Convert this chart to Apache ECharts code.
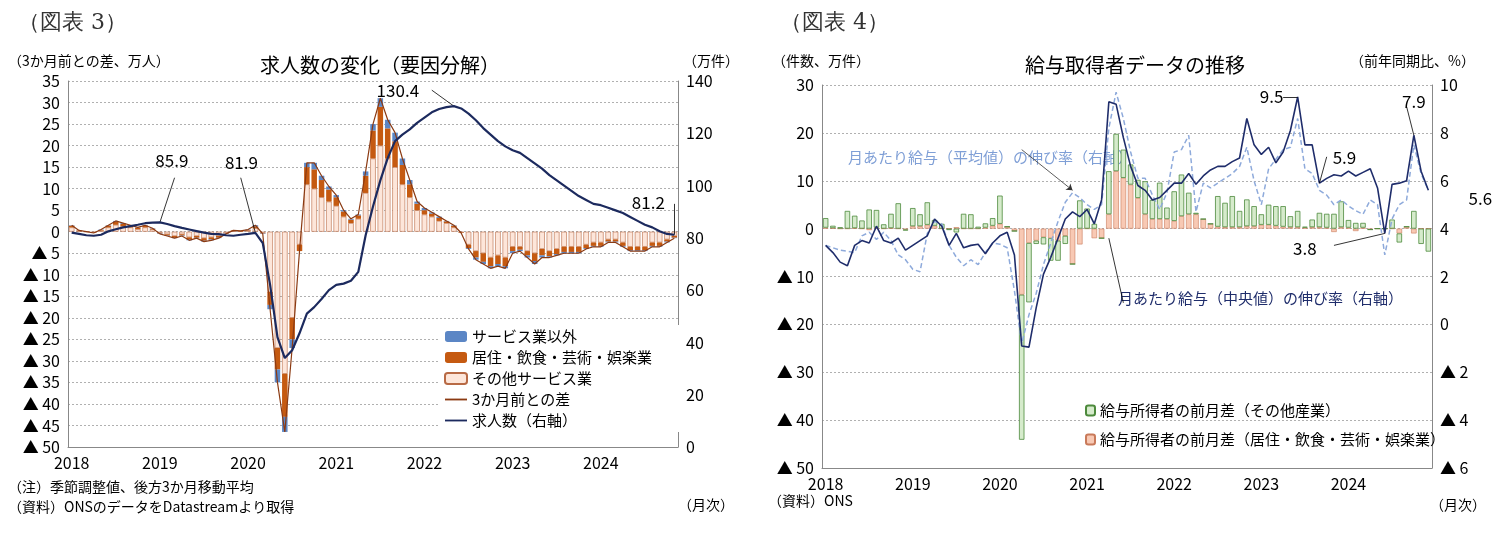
<!DOCTYPE html>
<html><head><meta charset="utf-8">
<script src="https://cdn.jsdelivr.net/npm/echarts@6/dist/echarts.min.js"></script>
<style>html,body{margin:0;background:#fff}#c{width:1494px;height:539px}</style>
</head><body><div id="c"></div>
<script>
// months
var monthsL = [], monthsR = []
for (var y = 2018; y <= 2024; y++) for (var m = 1; m <= 12; m++) monthsR.push(y + '-' + m)
monthsL = monthsR.slice(0, 83)

// 図表3: 3か月前との差（万人）
var otherSvc = [1,0.2,0,-0.2,0.3,1,1.6,1.3,1,0.6,1,0.5,
-0.3,-0.6,-1,-0.6,-1.3,-1,-1.5,-1.3,-1,-0.3,0.2,0.1,
0.3,0.8,-0.3,-14,-27,-33,-20,-3,11,10,8,7,
6,3.5,2,3,9,17,20,17,15,11,8,5,
4,3.5,2.5,2,1,-0.2,-3,-4.5,-5,-6,-5.5,-6,
-3.5,-3.5,-4.5,-5,-4,-4.5,-4,-3.5,-3.5,-3.5,-3,-2.5,
-2.5,-1.8,-1.8,-2.5,-3.5,-3.5,-3.5,-2.5,-2.5,-1.8,-1]
var hospL = [0.4,0.1,0,-0.1,0.1,0.4,0.7,0.5,0.4,0.3,0.4,0.2,
-0.1,-0.3,-0.4,-0.3,-0.5,-0.4,-0.6,-0.5,-0.4,-0.1,0.1,0.1,
0.1,0.4,-0.1,-3,-5,-10,-5,-1.5,4,4.5,4,2.8,
2,1.2,0.8,0.8,4,6.5,9,7,6,4.5,3,1.5,
1,0.7,0.7,0.4,0.4,-0.1,-0.8,-1.5,-2,-2,-2,-2,
-1,-0.7,-1,-1.8,-1.5,-1.2,-1.2,-1.2,-1.2,-1.2,-0.8,-0.8,
-0.8,-0.5,-0.5,-0.8,-0.8,-0.8,-0.8,-0.8,-0.8,-0.5,-0.4]
var nonSvc = [0.1,0,0,0,0.1,0.1,0.2,0.2,0.1,0.1,0.1,0.1,
-0.1,-0.1,-0.1,-0.1,-0.2,-0.1,-0.2,-0.2,-0.1,-0.1,0,0,
0.1,0.3,-0.1,-1,-3,-3.5,-2,0,1,1.5,1,0.7,
0.5,0.3,0.2,0.2,1,1.5,2,2,2,1.5,1,0.5,
0.5,0.3,0.3,0.1,0.1,0,-0.2,-0.5,-0.5,-0.5,-0.5,-0.5,
-0.5,-0.3,-0.5,-0.7,-0.5,-0.3,-0.3,-0.3,-0.3,-0.3,-0.2,-0.2,
-0.2,-0.2,-0.2,-0.2,-0.2,-0.2,-0.2,-0.2,-0.2,-0.2,-0.1]
var diff3m = [1.5,0.3,0,-0.3,0.5,1.5,2.5,2,1.5,1,1.5,0.8,
-0.5,-1,-1.5,-1,-2,-1.5,-2.3,-2,-1.5,-0.5,0.3,0.2,
0.5,1.5,-0.5,-18,-35,-46.5,-27,-4.5,16,16,13,10.5,
8.5,5,3,4,14,25,31,26,23,17,12,7,
5.5,4.5,3.5,2.5,1.5,-0.3,-4,-6.5,-7.5,-8.5,-8,-8.5,
-5,-4.5,-6,-7.5,-6,-6,-5.5,-5,-5,-5,-4,-3.5,
-3.5,-2.5,-2.5,-3.5,-4.5,-4.5,-4.5,-3.5,-3.5,-2.5,-1.5]
var vacancies = [82,81.5,81,80.8,81.2,82.5,83.3,84,84.5,85,85.6,85.8,
85.9,85.3,84.5,83.8,83.2,82.6,82,81.5,81.4,81,80.8,81.2,
81.5,81.9,78,62,42,34,37,43.5,51,53.5,56.6,60,
62,62.5,63.6,67,81,92,102,110.5,117,119.5,121.5,124,
126,128,129.3,130,130.4,129.5,127.5,125,122,119.5,117,115,
113.5,112.5,110.5,108.5,106.5,104,102,100,98,96,94.5,93,
92.5,91.5,90.5,89.5,88,86.5,85,84,82.5,81.5,81.2]

// 図表4: 前月差（万件）, 伸び率（%）
var payOther = [2,0.5,0.3,3.7,2.6,1.7,4,3.7,0.9,3,5.3,-0.2,
3.8,2.5,4.7,1.2,1,-0.3,-0.8,3.1,3,0.4,0.9,1.6,
5.9,0,0,-30.3,-12.4,-0.7,-1.5,-4.7,-4.2,-1.7,0,5.9,
4.2,1,0,9,7.8,5.9,4.2,3.8,6.9,4,7.6,2.4,
6.2,8.7,4.5,0.3,0,0,6.4,5.1,6.5,3.4,5.6,4.2,
2.2,4.2,4.1,4.3,2.3,3.4,0.2,1.6,3,2.9,3.1,5.4,
1.6,1.2,1,0,0,0,1.9,-1.9,0,3.7,-3.2,-4.8]
var payHosp = [0.2,0.1,0,0,0.1,0,-0.3,0.2,0,0.1,0,-0.2,
0.5,0.5,0.8,0.6,0,0,0.3,0,0,0,0.2,0.6,
1,0.4,-0.5,-13.8,-3,-2.5,-1.8,-2,-2.5,-1.5,-7.4,-3.3,
0,-2,-2,3,12,10.6,9.2,6.4,3,2,2,2,
1.6,2.6,3,3,2,1,0.4,0.3,0.3,0.3,0.5,0.5,
0.8,0.8,0.6,0.4,0.3,0.3,0.2,0.3,0.3,0.2,-0.7,0.3,
0.2,-0.5,0.2,-0.2,0,0,0,-1,0.4,-1,0,0]
var payMedian = [3.3,3.0,2.6,2.45,3.3,3.5,3.4,4.1,3.5,3.4,3.6,3.1,
3.3,3.5,3.7,4.4,4.1,3.3,3.8,3.2,3.3,3.35,2.95,3.4,
3.7,3.85,2.9,-0.9,-0.95,0.7,2.1,2.8,3.6,4.4,4.7,4.5,
4.8,4.2,5.2,9.3,9.2,7.8,6.6,5.8,5.6,5.2,5.3,5.6,
5.9,5.9,6.3,5.85,6.2,6.45,6.6,6.6,6.8,6.95,8.6,7.5,
7.1,7.4,6.75,7.2,8.1,9.5,7.5,7.5,5.9,6.1,6.25,6.2,
6.4,6.2,6.35,6.5,5.7,3.8,5.85,5.9,6.0,7.9,6.4,5.6]
var payMean = [3.3,3.2,3.1,3.05,3.0,3.7,3.85,3.55,3.85,3.5,2.9,2.7,
2.3,2.2,3.8,4.3,4.2,3.3,2.8,2.45,2.7,2.5,3.0,3.4,
3.35,3.2,1.4,-0.8,0.4,1.3,2.5,3.4,4.3,5.1,5.5,5.3,
5.0,4.8,5.0,8.2,9.7,8.6,7.2,6.1,6.1,5.4,4.8,5.5,
7.2,7.3,7.9,4.7,5.9,5.7,5.9,6.1,6.3,6.6,7.4,6.0,
5.0,6.5,6.9,7.3,7.4,8.6,6.5,6.3,5.6,5.4,5.0,5.2,
4.95,4.75,4.6,5.2,5.0,2.9,4.4,5.0,5.2,7.5,6.3,5.6]

var FONT = 'Noto Sans CJK JP'
var tri = function (v) { return v < 0 ? '▲ ' + (-v) : String(v) }
var yearLbl = function (v) { return v.split('-')[0] }
var janOnly = function (i) { return i % 12 === 0 }
var lbl = { color: '#000', fontSize: 16, fontFamily: FONT }
var gridLine = { show: true, lineStyle: { color: '#b0b0b0', type: [2, 2] } }
var noLine = { show: false }
var lineIcon = 'path://M0,4L24,4L24,6L0,6Z'

var chart = echarts.init(document.getElementById('c'))

function ptLabel(i, v, text, ox, oy) {
    return { coord: [i, v], symbolSize: 0, value: text,
        label: { show: true, formatter: text, offset: [ox, oy], color: '#000', fontSize: 17, fontFamily: FONT } }
}
function leader(a, b) { return [{ coord: a }, { coord: b }] }

var option = {
    animation: false,
    textStyle: { fontFamily: FONT },
    title: [
        { text: '求人数の変化（要因分解）', left: 375, top: 50, textAlign: 'center', textStyle: { fontSize: 20, fontWeight: 'normal', color: '#000', fontFamily: FONT } },
        { text: '給与取得者データの推移', left: 1130, top: 50, textAlign: 'center', textStyle: { fontSize: 20, fontWeight: 'normal', color: '#000', fontFamily: FONT } }
    ],
    graphic: [
        { type: 'text', left: 18, top: 12, style: { text: '（図表 3）', fontSize: 22, fill: '#333', fontFamily: 'DejaVu Serif' } },
        { type: 'text', left: 780, top: 12, style: { text: '（図表 4）', fontSize: 22, fill: '#333', fontFamily: 'DejaVu Serif' } },
        { type: 'text', left: 8, top: 54, style: { text: '（3か月前との差、万人）', fontSize: 14, fill: '#000', fontFamily: FONT } },
        { type: 'text', left: 683, top: 54, style: { text: '（万件）', fontSize: 14, fill: '#000', fontFamily: FONT } },
        { type: 'text', left: 8, top: 480, style: { text: '（注）季節調整値、後方3か月移動平均', fontSize: 14, fill: '#000', fontFamily: FONT } },
        { type: 'text', left: 8, top: 500, style: { text: '（資料）ONSのデータをDatastreamより取得', fontSize: 14, fill: '#000', fontFamily: FONT } },
        { type: 'text', left: 678, top: 498, style: { text: '（月次）', fontSize: 14, fill: '#000', fontFamily: FONT } },
        { type: 'text', left: 772, top: 54, style: { text: '（件数、万件）', fontSize: 14, fill: '#000', fontFamily: FONT } },
        { type: 'text', left: 1350, top: 54, style: { text: '（前年同期比、%）', fontSize: 14, fill: '#000', fontFamily: FONT } },
        { type: 'text', left: 768, top: 494, style: { text: '（資料）ONS', fontSize: 14, fill: '#000', fontFamily: FONT } },
        { type: 'text', left: 1430, top: 498, style: { text: '（月次）', fontSize: 14, fill: '#000', fontFamily: FONT } },
        { type: 'text', left: 848, top: 150, style: { text: '月あたり給与（平均値）の伸び率（右軸）', fontSize: 15, fill: '#7f9fd6', fontFamily: FONT } },
        { type: 'text', left: 1118, top: 291, style: { text: '月あたり給与（中央値）の伸び率（右軸）', fontSize: 15, fill: '#1f2d6b', fontFamily: FONT } }
    ],
    legend: [
        { left: 438, top: 325, orient: 'vertical', itemGap: 6, itemWidth: 22, itemHeight: 11,
          backgroundColor: '#fff', padding: [4, 30, 4, 6],
          textStyle: { fontSize: 15, color: '#000', fontFamily: FONT },
          data: ['サービス業以外', '居住・飲食・芸術・娯楽業', 'その他サービス業',
                 { name: '3か月前との差', icon: lineIcon }, { name: '求人数（右軸）', icon: lineIcon }] },
        { left: 1080, top: 398, orient: 'vertical', itemGap: 14, itemWidth: 9, itemHeight: 10,
          textStyle: { fontSize: 15, color: '#000', fontFamily: FONT },
          data: ['給与所得者の前月差（その他産業）', '給与所得者の前月差（居住・飲食・芸術・娯楽業）'] }
    ],
    grid: [
        { left: 68, right: 816, top: 81, bottom: 92 },
        { left: 822, right: 62, top: 85, bottom: 71 }
    ],
    xAxis: [
        { type: 'category', gridIndex: 0, data: monthsL, axisTick: noLine,
          axisLine: { onZero: false, lineStyle: { color: '#888' } },
          axisLabel: Object.assign({ interval: janOnly, formatter: yearLbl }, lbl) },
        { type: 'category', gridIndex: 1, data: monthsR, axisTick: noLine,
          axisLine: { onZero: false, lineStyle: { color: '#888' } },
          axisLabel: Object.assign({ interval: janOnly, formatter: yearLbl }, lbl) }
    ],
    yAxis: [
        { type: 'value', gridIndex: 0, min: -50, max: 35, interval: 5, axisLine: { show: true, lineStyle: { color: '#888' } },
          axisLabel: Object.assign({ formatter: tri }, lbl), splitLine: gridLine },
        { type: 'value', gridIndex: 0, min: 0, max: 140, interval: 20, axisLine: { show: true, lineStyle: { color: '#888' } },
          axisLabel: lbl, splitLine: noLine },
        { type: 'value', gridIndex: 1, min: -50, max: 30, interval: 10, axisLine: { show: true, lineStyle: { color: '#888' } },
          axisLabel: Object.assign({ formatter: tri }, lbl), splitLine: gridLine },
        { type: 'value', gridIndex: 1, min: -6, max: 10, interval: 2, axisLine: { show: true, lineStyle: { color: '#888' } },
          axisLabel: Object.assign({ formatter: tri }, lbl), splitLine: noLine }
    ],
    series: [
        { name: 'その他サービス業', type: 'bar', xAxisIndex: 0, yAxisIndex: 0, stack: 'l', barCategoryGap: '25%', data: otherSvc,
          itemStyle: { color: '#fde6da', borderColor: '#b86a45', borderWidth: 0.6 } },
        { name: '居住・飲食・芸術・娯楽業', type: 'bar', xAxisIndex: 0, yAxisIndex: 0, stack: 'l', data: hospL,
          itemStyle: { color: '#c55a11' } },
        { name: 'サービス業以外', type: 'bar', xAxisIndex: 0, yAxisIndex: 0, stack: 'l', data: nonSvc,
          itemStyle: { color: '#5b86c5' } },
        { name: '3か月前との差', type: 'line', xAxisIndex: 0, yAxisIndex: 0, data: diff3m, symbol: 'none',
          lineStyle: { color: '#8b3a12', width: 1.2 }, itemStyle: { color: '#8b3a12' } },
        { name: '求人数（右軸）', type: 'line', xAxisIndex: 0, yAxisIndex: 1, data: vacancies, symbol: 'none', z: 5,
          lineStyle: { color: '#1c2a5e', width: 2.2 }, itemStyle: { color: '#1c2a5e' },
          markPoint: { data: [
              ptLabel(12, 85.9, '85.9', 12, -62),
              ptLabel(25, 81.9, '81.9', -14, -70),
              ptLabel(52, 130.4, '130.4', -56, -16),
              ptLabel(82, 81.2, '81.2', -26, -32)
          ] },
          markLine: { symbol: 'none', silent: true, label: { show: false }, lineStyle: { color: '#000', width: 0.8, type: 'solid' },
              data: [ leader([12, 85.9], [14, 103]), leader([25, 81.9], [23, 103]),
                      leader([52, 130.4], [49, 136.5]), leader([82, 81.2], [82, 93]) ] } },

        { name: '給与所得者の前月差（居住・飲食・芸術・娯楽業）', type: 'bar', xAxisIndex: 1, yAxisIndex: 2, stack: 'r', barCategoryGap: '25%', data: payHosp,
          itemStyle: { color: '#f8c9b4', borderColor: '#c97a5a', borderWidth: 0.6 } },
        { name: '給与所得者の前月差（その他産業）', type: 'bar', xAxisIndex: 1, yAxisIndex: 2, stack: 'r', data: payOther,
          itemStyle: { color: '#d6ebcc', borderColor: '#4d8a3c', borderWidth: 0.8 } },
        { name: '平均値', type: 'line', xAxisIndex: 1, yAxisIndex: 3, data: payMean, symbol: 'none',
          lineStyle: { color: '#8eaadb', width: 1.5, type: [5, 3] },
          markLine: { symbol: ['none', 'arrow'], symbolSize: 6, silent: true, label: { show: false }, lineStyle: { color: '#333', width: 0.8, type: 'solid' },
              data: [ leader([27, 7.3], [34, 5.6]) ] } },
        { name: '中央値', type: 'line', xAxisIndex: 1, yAxisIndex: 3, data: payMedian, symbol: 'none',
          lineStyle: { color: '#1f2d6b', width: 1.6 },
          markPoint: { data: [
              ptLabel(65, 9.5, '9.5', -26, 0),
              ptLabel(68, 5.9, '5.9', 25, -26),
              ptLabel(81, 7.9, '7.9', 0, -34),
              ptLabel(77, 3.8, '3.8', -80, 15),
              ptLabel(83, 5.6, '5.6', 52, 8)
          ] },
          markLine: { symbol: 'none', silent: true, label: { show: false }, lineStyle: { color: '#000', width: 0.8, type: 'solid' },
              data: [ leader([65, 9.5], [63, 9.5]), leader([68, 5.9], [69, 7.0]),
                      leader([81, 7.9], [80, 9.1]), leader([77, 3.8], [70, 3.3]), leader([83, 5.6], [85, 5.4]),
                      leader([39, 3.6], [41, 0.9]) ] } }
    ]
}
chart.setOption(option)
</script>
</body></html>
